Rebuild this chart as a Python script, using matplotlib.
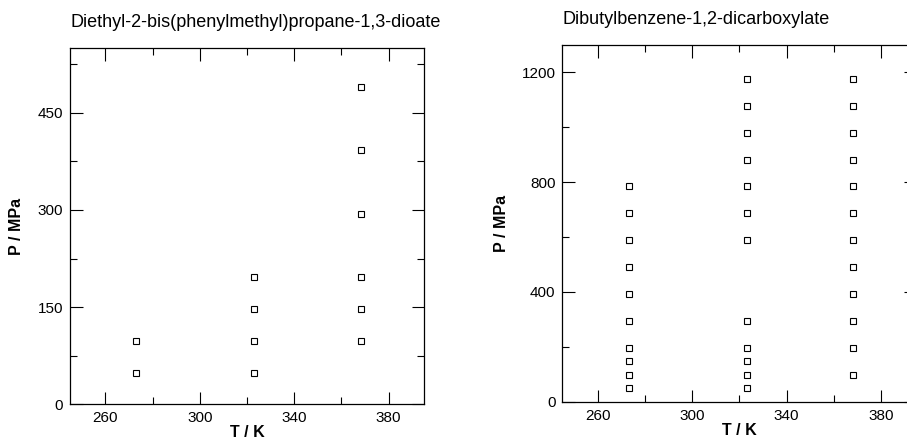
import numpy as np
import matplotlib.pyplot as plt
from matplotlib.ticker import MultipleLocator

plt.rcParams['font.family'] = ['Liberation Sans', 'DejaVu Sans']

# lijevi graf: Diethyl-2-bis(phenylmethyl)propane-1,3-dioate
t_left = [273.15, 273.15,
          323.15, 323.15, 323.15, 323.15,
          368.15, 368.15, 368.15, 368.15, 368.15, 368.15]
p_left = [49.0, 98.1,
          49.0, 98.1, 147.1, 196.1,
          98.1, 147.1, 196.1, 294.2, 392.3, 490.3]

# desni graf: Dibutylbenzene-1,2-dicarboxylate
t_right = [273.15] * 10 + [323.15] * 12 + [368.15] * 12
p_right = [49.0, 98.1, 147.1, 196.1, 294.2, 392.3, 490.3, 588.4, 686.5, 784.5,
           49.0, 98.1, 147.1, 196.1, 294.2, 588.4, 686.5, 784.5, 882.6, 980.7, 1078.7, 1176.8,
           98.1, 196.1, 294.2, 392.3, 490.3, 588.4, 686.5, 784.5, 882.6, 980.7, 1078.7, 1176.8]

titles = ["Diethyl-2-bis(phenylmethyl)propane-1,3-dioate",
          "Dibutylbenzene-1,2-dicarboxylate"]

fig = plt.figure(figsize=(9.07, 4.4), dpi=100)
ax1 = fig.add_axes([0.0772, 0.0811, 0.3903, 0.8098])
ax2 = fig.add_axes([0.6200, 0.0870, 0.3903, 0.8107])

for ax, t, p, title in [(ax1, t_left, p_left, titles[0]), (ax2, t_right, p_right, titles[1])]:
    ax.plot(t, p, 's', mfc='white', mec='black', mew=0.8, ms=4.8, ls='none')
    ax.set_xlim(245, 395)
    ax.xaxis.set_major_locator(MultipleLocator(40))
    ax.xaxis.set_minor_locator(MultipleLocator(20))
    ax.tick_params(which='both', direction='in', top=True, right=True, labelsize=11, width=0.8)
    ax.tick_params(which='major', length=9, pad=5)
    ax.tick_params(which='minor', length=5)
    ax.set_xlabel("T / K", fontsize=11.5, fontweight='bold', labelpad=0)
    ax.set_ylabel("P / MPa", fontsize=11.5, fontweight='bold')
    ax.set_title(title, fontsize=13, loc='left', pad=15)
    for s in ax.spines.values():
        s.set_linewidth(0.9)

ax1.set_ylim(0, 550)
ax1.yaxis.set_major_locator(MultipleLocator(150))
ax1.yaxis.set_minor_locator(MultipleLocator(75))
ax1.set_xticks([260, 300, 340, 380])
ax1.yaxis.set_label_coords(-0.13, 0.5)

ax2.set_ylim(0, 1300)
ax2.yaxis.set_major_locator(MultipleLocator(400))
ax2.yaxis.set_minor_locator(MultipleLocator(200))
ax2.set_xticks([260, 300, 340, 380])
ax2.yaxis.set_label_coords(-0.15, 0.5)

plt.savefig("out.png", dpi=100)
